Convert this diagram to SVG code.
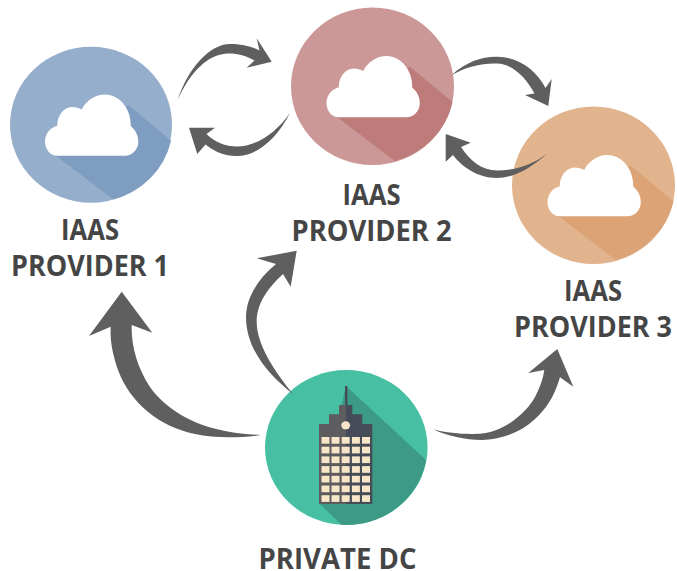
<svg xmlns="http://www.w3.org/2000/svg" width="677" height="571" viewBox="0 0 677 571">
<style>
.lb{font-family:"Open Sans","Liberation Sans",sans-serif;font-weight:700;font-size:28px;fill:#454545;text-anchor:middle}
.ar{fill:#5f5f5f}
.cl{fill:#fff}
.win{fill:#f7e6c8}
</style>
<defs>
<path id="cloud" class="cl" d="M-34 31C-41 31-46 24-46 17C-46 9-41 3-33.7 1C-34-9-27-17.7-19-17.7C-15-17.7-12-16.5-9.3-15.3C-5-24 4-30.3 14-30.3C29-30.3 40.5-15 39.7 1.3C44 5 47.3 10 47.3 17C47.3 25 41 31 34 31Z"/>
<path id="shade" d="M-36 30.3L22.3 74.6A81 78 0 0 0 80 16L37.3-19.7Z"/>
<rect id="w" class="win" width="8" height="6.7"/>
</defs>
<rect width="677" height="571" fill="#fff"/>
<g id="provider1">
<ellipse cx="91" cy="124.7" rx="81" ry="78" fill="#94aecb"/>
<use href="#shade" transform="translate(91 124.7)" fill="#7f9dc0"/>
<use href="#cloud" transform="translate(91 124.7)"/>
<text class="lb" x="90" y="240" textLength="58" lengthAdjust="spacingAndGlyphs">IAAS</text>
<text class="lb" x="90" y="276" textLength="158" lengthAdjust="spacingAndGlyphs">PROVIDER 1</text>
</g>
<g id="provider2">
<ellipse cx="372.5" cy="86.3" rx="81.5" ry="78.7" fill="#cc9797"/>
<use href="#shade" transform="translate(372.5 86.3)" fill="#bd7b7a"/>
<use href="#cloud" transform="translate(372.5 86.3)"/>
<text class="lb" x="371.5" y="205" textLength="58" lengthAdjust="spacingAndGlyphs">IAAS</text>
<text class="lb" x="371.5" y="241" textLength="160" lengthAdjust="spacingAndGlyphs">PROVIDER 2</text>
</g>
<g id="provider3">
<ellipse cx="593.5" cy="185.3" rx="81.5" ry="78.7" fill="#e1b48e"/>
<use href="#shade" transform="translate(593.5 185.3)" fill="#dca377"/>
<use href="#cloud" transform="translate(593.5 185.3)"/>
<text class="lb" x="593" y="301" textLength="58" lengthAdjust="spacingAndGlyphs">IAAS</text>
<text class="lb" x="593" y="337" textLength="158" lengthAdjust="spacingAndGlyphs">PROVIDER 3</text>
</g>
<g id="private-dc">
<ellipse cx="346.3" cy="447.5" rx="81.3" ry="77.5" fill="#46bfa3"/>
<path d="M346 386L426 460A81.3 77.5 0 0 1 341.7 525L319 503Z" fill="#3c9a85"/>
<rect x="345" y="386" width="2.4" height="20" fill="#454c58"/>
<path d="M319 424H329V414.3H339V405H346V504H319Z" fill="#5d5d60"/>
<path d="M346 405H352.3V414.3H362.3V424H372.3V504H346Z" fill="#454c58"/>
<ellipse cx="345.7" cy="425.3" rx="4.4" ry="4" class="win"/>
<g transform="translate(321.5 437)">
<use href="#w" x="0" y="0"/><use href="#w" x="10" y="0"/><use href="#w" x="20.2" y="0"/><use href="#w" x="30.4" y="0"/><use href="#w" x="40.5" y="0"/>
<use href="#w" x="0" y="9.7"/><use href="#w" x="10" y="9.7"/><use href="#w" x="20.2" y="9.7"/><use href="#w" x="30.4" y="9.7"/><use href="#w" x="40.5" y="9.7"/>
<use href="#w" x="0" y="19.4"/><use href="#w" x="10" y="19.4"/><use href="#w" x="20.2" y="19.4"/><use href="#w" x="30.4" y="19.4"/><use href="#w" x="40.5" y="19.4"/>
<use href="#w" x="0" y="29.1"/><use href="#w" x="10" y="29.1"/><use href="#w" x="20.2" y="29.1"/><use href="#w" x="30.4" y="29.1"/><use href="#w" x="40.5" y="29.1"/>
<use href="#w" x="0" y="38.8"/><use href="#w" x="10" y="38.8"/><use href="#w" x="20.2" y="38.8"/><use href="#w" x="30.4" y="38.8"/><use href="#w" x="40.5" y="38.8"/>
<use href="#w" x="0" y="48.5"/><use href="#w" x="10" y="48.5"/><use href="#w" x="20.2" y="48.5"/><use href="#w" x="30.4" y="48.5"/><use href="#w" x="40.5" y="48.5"/>
<use href="#w" x="0" y="58.2"/><use href="#w" x="10" y="58.2"/><use href="#w" x="20.2" y="58.2"/><use href="#w" x="30.4" y="58.2"/><use href="#w" x="40.5" y="58.2"/>
</g>
<text class="lb" x="337.5" y="569" textLength="158" lengthAdjust="spacingAndGlyphs">PRIVATE DC</text>
</g>
<g id="connectors">
<path class="ar" d="M177.7 100C188 68 210 44 230 44C241 44 252 46.500 259.500 50.500L256.700 38.300L271.700 61.700L246.700 67.700L254.500 60.500C246 55.500 236 53 227 53.500C208 54.500 190 72 177.700 100Z"/>
<path class="ar" d="M290 113C276 140 256 156.500 236 156C225 156 214 151.500 205.500 144.500L197.300 154L189 127.700L215 127.700L206.500 134C214 142 226 146.500 237 146.500C256 146.500 276 133 290 113Z"/>
<path class="ar" d="M451.700 75C466 62 482 56.500 497 56.800C519 57.200 536 70 545.500 88L551.700 79L548.300 106L525 95L534.500 93.500C526 78 513 64 497 63.500C481 63 466 67 451.700 75Z"/>
<path class="ar" d="M546.700 154C531 168 514 178 496.700 178C478 178 462 167 453 155L445.700 161.700L445.700 134L470.700 142.700L461 147C470 161 482 170.500 497 170.500C515 170.500 532 165 546.700 154Z"/>
<path class="ar" d="M261 435C240 438 215 438.500 195 434C160 427 130 403 118 370C112 352 110 340 110.700 326.700L89 336L121.700 291.700L152.300 332.700L131.700 325C131 345 137 367 150 387C165 408 190 424 225 431C238 433.500 250 434.500 261 435Z"/>
<path class="ar" d="M293.300 394.300C270 376 246 350 246 317C246 300 256 280 276 264L256.700 258.300L296.700 250.700L290.700 286.700L283 274C268 288 256.700 303 256.700 322C256.700 345 275 372 293.300 394.300Z"/>
<path class="ar" d="M433.300 429.300C450 434 470 434.500 482 433.500C505 431 528 412 536 395C541 385 543 378 544.300 370L528.300 373L557.300 349L573.300 386.700L560 377.300C554 398 545 410 535 419C520 433 500 440 482 440C465 440 447 436 433.300 429.300Z"/>
</g>
</svg>
